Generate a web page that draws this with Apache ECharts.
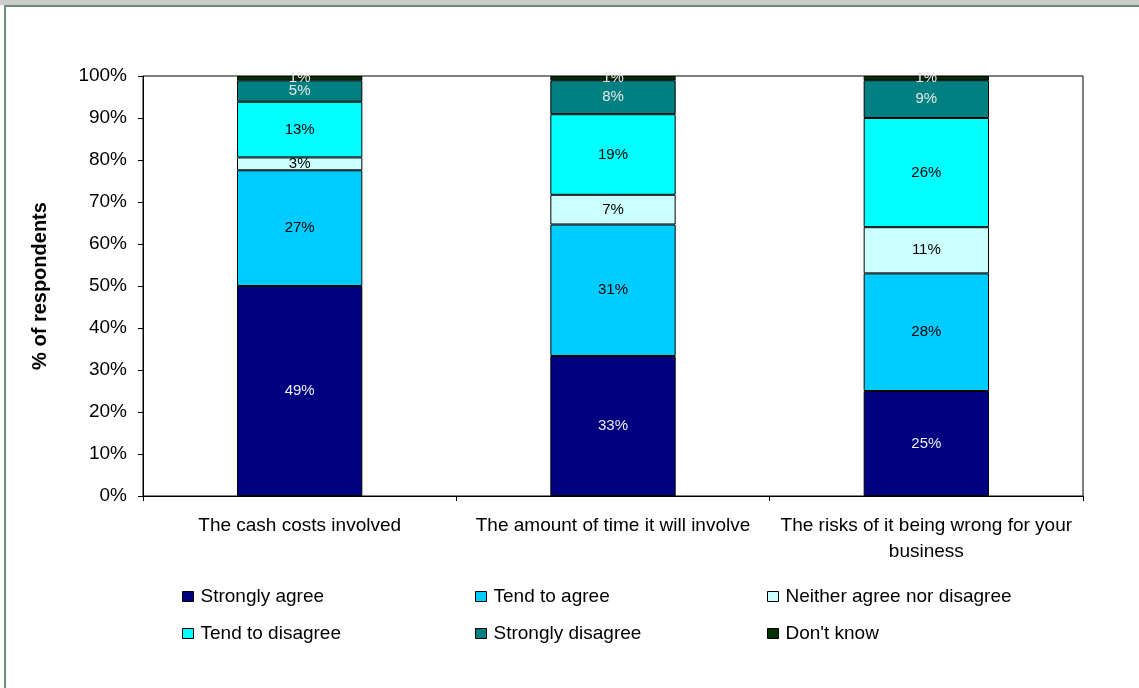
<!DOCTYPE html>
<html>
<head>
<meta charset="utf-8">
<script src="https://cdn.jsdelivr.net/npm/echarts@6/dist/echarts.min.js"></script>
<style>
  html, body { margin: 0; padding: 0; background: #ffffff; }
  #chart { width: 1139px; height: 688px; }
</style>
</head>
<body>
<div id="chart"></div>
<script>
// Survey responses per barrier (percent of respondents)
const categories = [
  'The cash costs involved',
  'The amount of time it will involve',
  'The risks of it being wrong for your\nbusiness'
];
const seriesNames = [
  'Strongly agree',
  'Tend to agree',
  'Neither agree nor disagree',
  'Tend to disagree',
  'Strongly disagree',
  "Don't know"
];
const stronglyAgree    = [49, 33, 25];
const tendToAgree      = [27, 31, 28];
const neither          = [3, 7, 11];
const tendToDisagree   = [13, 19, 26];
const stronglyDisagree = [5, 8, 9];
const dontKnow         = [1, 1, 1];
const yTicks = [0, 10, 20, 30, 40, 50, 60, 70, 80, 90, 100];

const seriesValues = [stronglyAgree, tendToAgree, neither, tendToDisagree, stronglyDisagree, dontKnow];
const colors = ['#000080', '#00CCFF', '#CCFFFF', '#00FFFF', '#008080', '#003300'];
const labelColors = ['#eeeeee', '#000000', '#000000', '#000000', '#e6e6e6', '#e6e6e6'];

// each column is a 100% stack: segment height is its share of the column total
const totals = categories.map((_, i) => seriesValues.reduce((s, arr) => s + arr[i], 0));

const FONT = 'Liberation Sans, Arial, sans-serif';

const series = seriesNames.map((name, k) => ({
  name: name,
  type: 'bar',
  stack: 'total',
  barWidth: '40%',
  data: seriesValues[k].map((v, i) => v / totals[i] * 100),
  itemStyle: { color: colors[k], borderColor: '#000000', borderWidth: 1 },
  label: {
    show: true,
    position: 'inside',
    fontFamily: FONT,
    fontSize: 15,
    color: labelColors[k],
    formatter: p => seriesValues[k][p.dataIndex] + '%'
  },
  emphasis: { disabled: true }
}));

// legend laid out as a 3 x 2 grid
const legendCols = [182, 475, 767];
const legendRows = [587, 624];
const legends = seriesNames.map((name, k) => ({
  data: [name],
  left: legendCols[k % 3],
  top: legendRows[Math.floor(k / 3)],
  padding: 0,
  icon: 'rect',
  itemWidth: 11,
  itemHeight: 10,
  itemStyle: { borderColor: '#000000', borderWidth: 1 },
  textStyle: { fontFamily: FONT, fontSize: 19, color: '#000000', padding: [0, 0, 0, 2] },
  selectedMode: false
}));

const chart = echarts.init(document.getElementById('chart'), null, { renderer: 'canvas' });
chart.setOption({
  animation: false,
  backgroundColor: '#ffffff',
  graphic: [
    { type: 'rect', shape: { x: 0, y: 0, width: 1139, height: 5 }, style: { fill: '#cccccc' }, silent: true, z: -10 },
    { type: 'rect', shape: { x: 5, y: 6, width: 1150, height: 700 }, style: { fill: '#ffffff', stroke: '#6f8a78', lineWidth: 2 }, silent: true, z: -10 }
  ],
  legend: legends,
  grid: {
    left: 143, right: 56, top: 76, bottom: 192,
    show: true, borderColor: '#000000', borderWidth: 1, backgroundColor: '#ffffff'
  },
  xAxis: {
    type: 'category',
    data: categories,
    axisLine: { lineStyle: { color: '#000000', width: 1 } },
    axisTick: { show: true, length: 5, lineStyle: { color: '#000000' } },
    axisLabel: { interval: 0, margin: 17, fontFamily: FONT, fontSize: 19, color: '#000000', lineHeight: 26 }
  },
  yAxis: {
    type: 'value',
    min: yTicks[0],
    max: yTicks[yTicks.length - 1],
    interval: yTicks[1] - yTicks[0],
    name: '% of respondents',
    nameLocation: 'middle',
    nameGap: 93,
    nameRotate: 90,
    nameTextStyle: { fontFamily: FONT, fontSize: 20, fontWeight: 'bold', color: '#000000' },
    axisLine: { show: true, lineStyle: { color: '#000000', width: 1 } },
    axisTick: { show: true, length: 5, lineStyle: { color: '#000000' } },
    splitLine: { show: false },
    axisLabel: { margin: 16, fontFamily: FONT, fontSize: 19, color: '#000000', formatter: '{value}%' }
  },
  series: series
});
</script>
</body>
</html>
